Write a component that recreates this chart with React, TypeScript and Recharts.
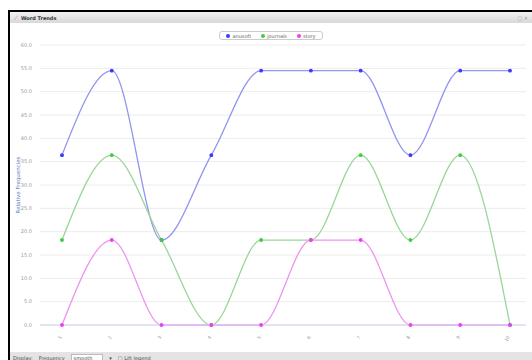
import React from "react";
import { LineChart, Line, XAxis, YAxis, CartesianGrid, Legend } from "recharts";

const categories = ["1", "2", "3", "4", "5", "6", "7", "8", "9", "10"];
const seriesA = [36.4, 54.5, 18.2, 36.4, 54.5, 54.5, 54.5, 36.4, 54.5, 54.5];
const seriesB = [18.2, 36.4, 18.2, 0, 18.2, 18.2, 36.4, 18.2, 36.4, 0];
const seriesC = [0, 18.2, 0, 0, 0, 18.2, 18.2, 0, 0, 0];
const seriesNames = ["anusoft", "journals", "story"];
const yTicks = [0, 5, 10, 15, 20, 25, 30, 35, 40, 45, 50, 55, 60];

const data = categories.map((c, i) => ({
  cat: c,
  a: seriesA[i],
  b: seriesB[i],
  c: seriesC[i],
}));

const lineColors = ["#9294f0", "#9ad69a", "#f094f0"];
const dotColors = ["#3b3bff", "#3fcf3f", "#f03ff0"];

const LegendBox = () => (
  <div
    style={{
      display: "inline-flex",
      alignItems: "center",
      gap: 10,
      border: "1px solid #ccc",
      borderRadius: 3,
      padding: "1px 6px",
      background: "#fff",
      fontFamily: "DejaVu Sans, sans-serif",
      fontSize: 5,
      color: "#666",
      height: 9,
      boxSizing: "border-box",
    }}
  >
    {seriesNames.map((n, i) => (
      <span key={n} style={{ display: "inline-flex", alignItems: "center", gap: 2 }}>
        <span style={{ width: 4, height: 4, borderRadius: 2, background: dotColors[i], display: "inline-block" }} />
        {n}
      </span>
    ))}
  </div>
);

const XTick = (props: any) => {
  const { x, y, payload } = props;
  return (
    <g transform={`translate(${x},${y + 4})`}>
      <text transform="rotate(-60)" textAnchor="end" fontSize={4.5} fill="#999" fontFamily="DejaVu Sans, sans-serif">
        {payload.value}
      </text>
    </g>
  );
};

export default function App() {
  return (
    <div
      style={{
        position: "absolute",
        left: 8,
        top: 10,
        width: 524,
        height: 350,
        borderTop: "2px solid #000",
        borderLeft: "2px solid #000",
        background: "#fff",
        overflow: "hidden",
        fontFamily: "DejaVu Sans, sans-serif",
      }}
    >
      <div
        style={{
          height: 11,
          background: "linear-gradient(#f2f2f2, #d8d8d8)",
          fontSize: 5,
          color: "#333",
          display: "flex",
          alignItems: "center",
          paddingLeft: 4,
          position: "relative",
        }}
      >
        <span style={{ color: "#d44", marginRight: 3, fontSize: 6 }}>⟋</span>
        <b>Word Trends</b>
        <span style={{ position: "absolute", right: 6, color: "#999" }}>□ ✕</span>
      </div>
      <LineChart
        width={522}
        height={326}
        data={data}
        margin={{ top: 22, right: 6, bottom: 4, left: 2 }}
      >
        <CartesianGrid vertical={false} stroke="#ececec" />
        <Legend
          verticalAlign="top"
          align="center"
          content={() => <LegendBox />}
          wrapperStyle={{ top: 8, left: 0, width: 522, height: 0, textAlign: "center", lineHeight: 0 }}
        />
        <XAxis
          dataKey="cat"
          height={20}
          padding={{ left: 22, right: 16 }}
          tick={<XTick />}
          tickLine={false}
          axisLine={{ stroke: "#c8d4ee" }}
          interval={0}
        />
        <YAxis
          width={28}
          domain={[0, 60]}
          ticks={yTicks}
          tickFormatter={(v: number) => v.toFixed(1)}
          tick={{ fontSize: 5, fill: "#999", fontFamily: "DejaVu Sans, sans-serif" }}
          axisLine={false}
          tickLine={false}
          label={{
            value: "Relative Frequencies",
            angle: -90,
            position: "insideLeft",
            offset: 6,
            style: { fontSize: 5.5, fill: "#5a7cc0", textAnchor: "middle" },
          }}
        />
        <Line type="monotone" dataKey="a" name={seriesNames[0]} stroke={lineColors[0]} strokeWidth={1.3} dot={{ r: 1.3, fill: dotColors[0], stroke: dotColors[0] }} isAnimationActive={false} />
        <Line type="monotone" dataKey="b" name={seriesNames[1]} stroke={lineColors[1]} strokeWidth={1.3} dot={{ r: 1.3, fill: dotColors[1], stroke: dotColors[1] }} isAnimationActive={false} />
        <Line type="monotone" dataKey="c" name={seriesNames[2]} stroke={lineColors[2]} strokeWidth={1.3} dot={{ r: 1.3, fill: dotColors[2], stroke: dotColors[2] }} isAnimationActive={false} />
      </LineChart>
      <div
        style={{
          position: "absolute",
          left: 0,
          right: 0,
          top: 340,
          height: 12,
          background: "#e4e4e4",
          fontSize: 5,
          color: "#444",
          display: "flex",
          alignItems: "center",
          gap: 6,
          paddingLeft: 3,
        }}
      >
        <span>Display:</span>
        <span>Frequency</span>
        <span style={{ background: "#fff", border: "1px solid #bbb", padding: "0 10px 0 2px" }}>smooth</span>
        <span>▾</span>
        <span>□ Lift legend</span>
      </div>
    </div>
  );
}
